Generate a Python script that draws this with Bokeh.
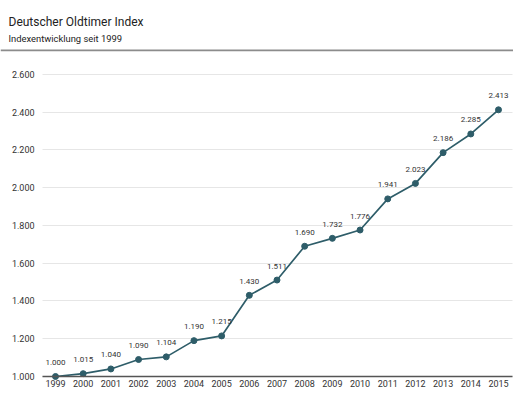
from bokeh.plotting import figure
from bokeh.models import Range1d, FixedTicker, Label, BoxAnnotation, ColumnDataSource
from bokeh.core.properties import value
from bokeh.embed import file_html
from bokeh.resources import INLINE

# ---- data ----
years = [1999, 2000, 2001, 2002, 2003, 2004, 2005, 2006, 2007, 2008,
         2009, 2010, 2011, 2012, 2013, 2014, 2015]
index_values = [1000, 1015, 1040, 1090, 1104, 1190, 1215, 1430, 1511, 1690,
                1732, 1776, 1941, 2023, 2186, 2285, 2413]
value_labels = ["1.000", "1.015", "1.040", "1.090", "1.104", "1.190", "1.215",
                "1.430", "1.511", "1.690", "1.732", "1.776", "1.941", "2.023",
                "2.186", "2.285", "2.413"]
y_ticks = [1000, 1200, 1400, 1600, 1800, 2000, 2200, 2400, 2600]
y_tick_labels = ["1.000", "1.200", "1.400", "1.600", "1.800", "2.000",
                 "2.200", "2.400", "2.600"]
x_tick_labels = ["1999", "2000", "2001", "2002", "2003", "2004", "2005", "2006",
                 "2007", "2008", "2009", "2010", "2011", "2012", "2013", "2014",
                 "2015"]
title_text = "Deutscher Oldtimer Index"
subtitle_text = "Indexentwicklung seit 1999"

FONT = "Roboto"
LINE_COLOR = "#2e5d69"
TEXT_COLOR = "#333333"

W, H = 513, 392
X0, X1 = 1997.0135, 2015.5418      # frame spans the full width
Y0, Y1 = 915.23, 2992.05           # frame spans the full height
PLOT_L, PLOT_R = 1998.5304, 2015.506  # extent of grid / axis lines
BASE = 1000                        # where the x axis sits

p = figure(width=W, height=H, output_backend="svg", toolbar_location=None,
           x_range=Range1d(X0, X1), y_range=Range1d(Y0, Y1),
           min_border_left=0, min_border_right=0, min_border_top=0,
           min_border_bottom=0)
p.outline_line_color = None

p.xgrid.grid_line_color = None
p.ygrid.grid_line_color = "#e6e6e6"
p.ygrid.grid_line_width = 1
p.ygrid.cross_bounds = (PLOT_L, PLOT_R)

p.yaxis.fixed_location = PLOT_L
p.yaxis.ticker = FixedTicker(ticks=y_ticks)
p.yaxis.major_label_overrides = dict(zip(y_ticks, y_tick_labels))
p.yaxis.axis_line_color = None
p.yaxis.major_tick_line_color = None
p.yaxis.minor_tick_line_color = None
p.yaxis.major_tick_out = 0
p.yaxis.minor_tick_out = 0
p.yaxis.major_label_standoff = 8
p.yaxis.major_label_text_font = FONT
p.yaxis.major_label_text_font_size = "9px"
p.yaxis.major_label_text_color = TEXT_COLOR

p.xaxis.fixed_location = BASE
p.xaxis.bounds = (PLOT_L, PLOT_R)
p.xaxis.ticker = FixedTicker(ticks=years)
p.xaxis.major_label_overrides = dict(zip(years, x_tick_labels))
p.xaxis.axis_line_color = "#555555"
p.xaxis.axis_line_width = 1.5
p.xaxis.major_tick_line_color = None
p.xaxis.minor_tick_line_color = None
p.xaxis.major_tick_out = 0
p.xaxis.minor_tick_out = 0
p.xaxis.major_label_standoff = 4
p.xaxis.major_label_text_font = FONT
p.xaxis.major_label_text_font_size = "9px"
p.xaxis.major_label_text_color = TEXT_COLOR

src = ColumnDataSource(dict(x=years, y=index_values, lbl=value_labels))
p.line("x", "y", source=src, line_color=LINE_COLOR, line_width=1.7)
p.scatter("x", "y", source=src, size=6, fill_color=LINE_COLOR,
          line_color=LINE_COLOR)
p.text("x", "y", text="lbl", source=src, text_align="center",
       text_baseline="middle", y_offset=-14, text_font=value(FONT),
       text_font_size="8px", text_color=TEXT_COLOR)

# header (inside the frame, canvas units measured from the top-left)
p.add_layout(Label(x=8, y=21, x_units="canvas", y_units="canvas", text=title_text,
                   text_font=FONT, text_font_size="12px", text_color="#222222",
                   text_baseline="alphabetic"))
p.add_layout(Label(x=8, y=38, x_units="canvas", y_units="canvas", text=subtitle_text,
                   text_font=FONT, text_font_size="9.4px", text_color="#222222",
                   text_baseline="alphabetic"))
p.add_layout(BoxAnnotation(left=0, right=W, top=49, bottom=50.8,
                           left_units="canvas", right_units="canvas",
                           top_units="canvas", bottom_units="canvas",
                           fill_color="#8c8c8c", fill_alpha=1, line_color=None))

open("out.html", "w").write(file_html(p, INLINE))
